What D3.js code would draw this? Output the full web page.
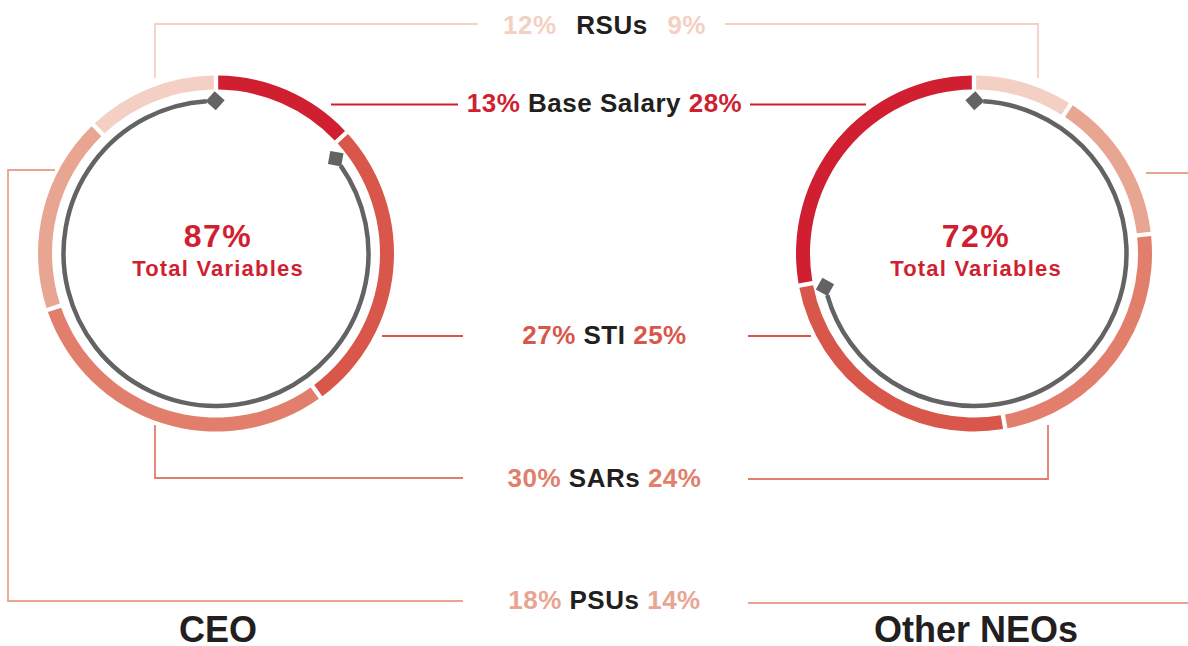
<!DOCTYPE html>
<html>
<head>
<meta charset="utf-8">
<script src="https://cdn.jsdelivr.net/npm/d3@7"></script>
<style>
  body { margin: 0; background: #fff; }
  svg text { font-family: "Liberation Sans", Arial, Helvetica, sans-serif; font-weight: bold; }
</style>
</head>
<body>
<svg id="chart" width="1188" height="646"></svg>
<script>
// pay mix, in % of total target compensation
var categories = ["Base Salary", "STI", "SARs", "PSUs", "RSUs"]
var ceo = [13, 27, 30, 18, 12]
var neo = [28, 25, 24, 14, 9]
var groups = ["CEO", "Other NEOs"]
var colors = ["#d01f31", "#d9574a", "#e17f6c", "#e8a592", "#f3d0c3"]

function main(){
	var svg = d3.select('svg#chart')
	var color = d3.scaleOrdinal().domain(categories).range(colors)
	var R = 178, ringW = 14, grayR = 152.5
	var centers = [[216, 253.5], [974, 253.5]]
	var deg = Math.PI / 180

	// diamond head, tip pointing away from the line
	svg.append('defs').append('marker')
		.attr('id', 'dia')
		.attr('markerUnits', 'userSpaceOnUse')
		.attr('viewBox', '-2 -12 24 24')
		.attr('markerWidth', 24).attr('markerHeight', 24)
		.attr('refX', 0).attr('refY', 0)
		.attr('orient', 'auto-start-reverse')
		.style('overflow', 'visible')
		.append('path')
		.attr('d', 'M-1,0L8.5,-9.5L18,0L8.5,9.5Z')
		.style('fill', '#636363')

	// connector lines
	var connectors = [
		{k: "RSUs", pts: [[155,78],[155,24],[478,24]]},
		{k: "RSUs", pts: [[725,24],[1038,24],[1038,78]]},
		{k: "Base Salary", pts: [[331,104.5],[458,104.5]]},
		{k: "Base Salary", pts: [[750,104.5],[866,104.5]]},
		{k: "PSUs", pts: [[55,170],[8,170],[8,601],[463,601]]},
		{k: "PSUs", pts: [[1146,173],[1188,173]]},
		{k: "PSUs", pts: [[748,603],[1188,603]]},
		{k: "STI", pts: [[382,336],[463,336]]},
		{k: "STI", pts: [[748,336],[811,336]]},
		{k: "SARs", pts: [[155,425],[155,478],[463,478]]},
		{k: "SARs", pts: [[748,479],[1048,479],[1048,425]]}
	]
	svg.selectAll('.conn')
		.data(connectors)
		.enter()
		.append('path')
		.attr('class', 'conn')
		.attr('d', function(e){ return d3.line()(e.pts) })
		.style('fill', 'none')
		.style('stroke', function(e){ return color(e.k) })
		.style('stroke-width', 1.8)

	var arc = d3.arc().innerRadius(R - ringW).outerRadius(R)
	var pie = d3.pie().sort(null).value(function(e){ return e.v }).padAngle(0.018)

	var sets = [ceo, neo]
	sets.forEach(function(vals, gi){
		var rows = categories.map(function(c, i){ return {k: c, v: vals[i]} })
		if(gi === 1) rows = rows.slice().reverse()
		var g = svg.append('g')
			.attr('transform', 'translate(' + centers[gi][0] + ',' + centers[gi][1] + ')')
		g.selectAll('.seg')
			.data(pie(rows))
			.enter()
			.append('path')
			.attr('class', 'seg')
			.attr('d', arc)
			.style('fill', function(e){ return color(e.data.k) })

		// variable pay arrow
		var base = vals[0] / 100 * 2 * Math.PI
		var a0, a1
		if(gi === 0){ a0 = base + 8 * deg; a1 = 2 * Math.PI - 3.5 * deg }
		else { a0 = 3.5 * deg; a1 = 2 * Math.PI - base - 5 * deg }
		var p = d3.path()
		p.arc(0, 0, grayR, a0 - Math.PI / 2, a1 - Math.PI / 2)
		g.append('path')
			.attr('d', p.toString())
			.style('fill', 'none')
			.style('stroke', '#636363')
			.style('stroke-width', 4.5)
			.attr('marker-start', 'url(#dia)')
			.attr('marker-end', 'url(#dia)')

		g.append('text')
			.attr('x', 2).attr('y', -7)
			.attr('text-anchor', 'middle')
			.style('font-size', '32px')
			.style('letter-spacing', '1.5px')
			.style('fill', colors[0])
			.text((100 - vals[0]) + '%')
		g.append('text')
			.attr('x', 2).attr('y', 22)
			.attr('text-anchor', 'middle')
			.style('font-size', '22px')
			.style('letter-spacing', '1.2px')
			.style('fill', colors[0])
			.text('Total Variables')

		svg.append('text')
			.attr('x', centers[gi][0] + 2).attr('y', 642)
			.attr('text-anchor', 'middle')
			.style('font-size', '36px')
			.style('fill', '#231f20')
			.text(groups[gi])
	})

	// middle labels
	var labelY = {"RSUs": 34, "Base Salary": 112, "STI": 344, "SARs": 487, "PSUs": 609}
	categories.forEach(function(c, i){
		var gap = c === "RSUs" ? 12 : 0
		var t = svg.append('text')
			.attr('x', 604.5).attr('y', labelY[c])
			.attr('text-anchor', 'middle')
			.style('font-size', '26px')
			.style('letter-spacing', '0.5px')
		t.append('tspan').style('fill', color(c)).text(ceo[i] + '% ')
		t.append('tspan').attr('dx', gap).style('fill', '#231f20').text(c)
		t.append('tspan').attr('dx', gap).style('fill', color(c)).text(' ' + neo[i] + '%')
	})
}
main()
</script>
</body>
</html>
